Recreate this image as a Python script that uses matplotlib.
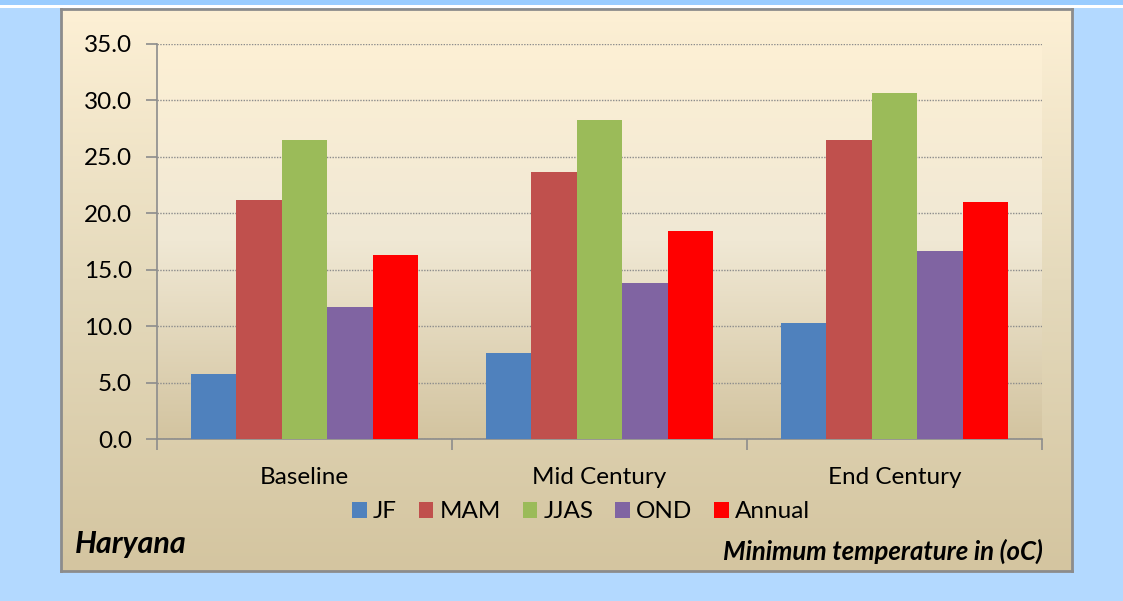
import numpy as np
import matplotlib.pyplot as plt
from matplotlib.colors import LinearSegmentedColormap
from matplotlib.patches import Rectangle

periods = ["Baseline", "Mid Century", "End Century"]
seasons = ["JF", "MAM", "JJAS", "OND", "Annual"]
jf = [5.8, 7.6, 10.3]
mam = [21.2, 23.7, 26.5]
jjas = [26.5, 28.3, 30.7]
ond = [11.7, 13.8, 16.7]
annual = [16.3, 18.4, 21.0]
colors = ["#4f81bd", "#c0504d", "#9bbb59", "#8064a2", "#ff0000"]

plt.rcParams['font.family'] = ['Lato', 'DejaVu Sans']

W, H = 1123, 601
fig = plt.figure(figsize=(W / 100, H / 100), dpi=100)
fig.patch.set_facecolor("#b3d9ff")

# top strip and white rule
fig.patches.append(Rectangle((0, 1 - 5 / H), 1, 5 / H, transform=fig.transFigure,
                             facecolor="#99ccff", edgecolor="none", zorder=0))
fig.patches.append(Rectangle((0, 1 - 8 / H), 1, 3 / H, transform=fig.transFigure,
                             facecolor="white", edgecolor="none", zorder=0))

# chart panel with vertical gradient
px0, px1, py0, py1 = 61, 1072, 9, 571
panel = fig.add_axes([px0 / W, 1 - py1 / H, (px1 - px0) / W, (py1 - py0) / H], zorder=0)
grad = LinearSegmentedColormap.from_list("g", ["#d4c5a0", "#e4d9bb", "#fdf0d5"])
panel.imshow(np.linspace(0, 1, 256).reshape(-1, 1), cmap=grad, aspect="auto",
             origin="lower", extent=[0, 1, 0, 1])
panel.set_xticks([])
panel.set_yticks([])
for s in panel.spines.values():
    s.set_color("#8c8c8c")
    s.set_linewidth(2)

# plot area
ax0, ax1, ay0, ay1 = 157, 1042, 44, 439
ax = fig.add_axes([ax0 / W, 1 - ay1 / H, (ax1 - ax0) / W, (ay1 - ay0) / H], zorder=1)
ax.patch.set_alpha(0)
grad2 = LinearSegmentedColormap.from_list("g2", ["#d3c4a0", "#f0e8d4", "#fdf0d5"])
ax.imshow(np.linspace(0, 1, 256).reshape(-1, 1), cmap=grad2, aspect="auto",
          origin="lower", extent=[0, 3, 0, 35], zorder=0)

series = [jf, mam, jjas, ond, annual]
bw = 0.154
x = np.arange(len(periods)) + 0.5
for i, (vals, c, name) in enumerate(zip(series, colors, seasons)):
    ax.bar(x + (i - 2) * bw, vals, width=bw, color=c, label=name, zorder=3,
           edgecolor="none")

ax.set_xlim(0, 3)
ax.set_ylim(0, 35)
ax.set_yticks(np.arange(0, 36, 5))
ax.set_yticklabels([f"{v:.1f}" for v in np.arange(0, 36, 5)], fontsize=17.5)
ax.yaxis.grid(True, linestyle=(0, (1, 1)), color="#8c8c8c", linewidth=1, zorder=1)
ax.set_xticks([0, 1, 2, 3])
ax.set_xticklabels([])
ax.set_xticks(x, minor=True)
ax.set_xticklabels(periods, minor=True, fontsize=17.5)
ax.tick_params(axis="x", which="minor", length=0, pad=20)
ax.tick_params(axis="x", which="major", length=8, color="#8c8c8c", width=1.2)
ax.tick_params(axis="y", length=8, color="#8c8c8c", width=1.2, pad=10)
for side in ["top", "right"]:
    ax.spines[side].set_visible(False)
for side in ["left", "bottom"]:
    ax.spines[side].set_color("#8c8c8c")
    ax.spines[side].set_linewidth(1.2)

fig.legend(loc="center", bbox_to_anchor=(581 / W, 1 - 512 / H), ncol=5, frameon=False,
           fontsize=17.5, handlelength=0.6, handleheight=0.6, handletextpad=0.25,
           columnspacing=0.9)

fig.text(75 / W, 1 - 544 / H, "Haryana", fontsize=22, fontweight="bold",
         fontstyle="italic", va="center", ha="left")
fig.text(1043 / W, 1 - 551 / H, "Minimum temperature in (oC)", fontsize=18.5,
         fontweight="bold", fontstyle="italic", va="center", ha="right")

fig.savefig("out.png", dpi=100)
